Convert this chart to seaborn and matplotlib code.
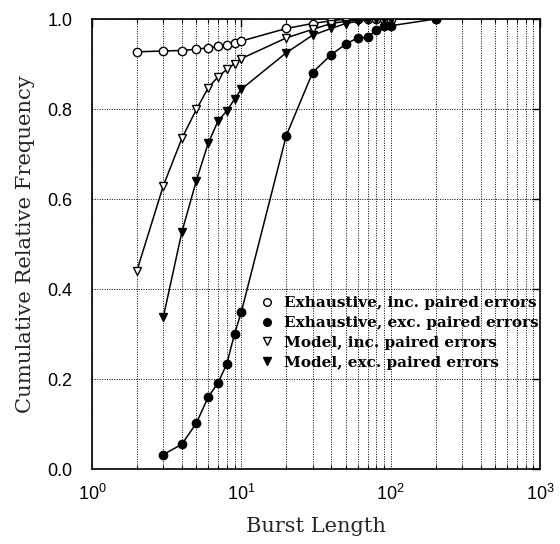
import matplotlib
matplotlib.use("Agg")
import matplotlib.pyplot as plt
import seaborn as sns
import pandas as pd
import numpy as np
from matplotlib.lines import Line2D
from matplotlib.ticker import LogLocator, NullFormatter

sns.set_theme(style="white")
plt.rcParams['font.family'] = ['Liberation Sans', 'DejaVu Sans']
plt.rcParams['mathtext.fontset'] = 'custom'
plt.rcParams['mathtext.rm'] = 'Liberation Sans'

# Data
exh_inc_x = [2, 3, 4, 5, 6, 7, 8, 9, 10, 20, 30, 40, 50, 60, 70, 80, 90, 100, 200]
exh_inc_y = [0.927, 0.929, 0.930, 0.933, 0.936, 0.939, 0.943, 0.947, 0.951, 0.979, 0.990, 0.996, 1.0, 1.0, 1.0, 1.0, 1.0, 1.0, 1.0]

exh_exc_x = [3, 4, 5, 6, 7, 8, 9, 10, 20, 30, 40, 50, 60, 70, 80, 90, 100, 200]
exh_exc_y = [0.032, 0.055, 0.102, 0.160, 0.192, 0.234, 0.300, 0.349, 0.741, 0.881, 0.921, 0.944, 0.958, 0.959, 0.976, 0.984, 0.985, 1.0]

mod_inc_x = [2, 3, 4, 5, 6, 7, 8, 9, 10, 20, 30, 40, 50, 60, 70, 80, 90, 100]
mod_inc_y = [0.441, 0.629, 0.735, 0.799, 0.847, 0.872, 0.888, 0.901, 0.912, 0.958, 0.977, 0.990, 0.995, 0.998, 1.0, 1.0, 1.0, 1.0]

mod_exc_x = [3, 4, 5, 6, 7, 8, 9, 10, 20, 30, 40, 50, 60, 70, 80, 90, 100]
mod_exc_y = [0.337, 0.527, 0.641, 0.724, 0.774, 0.796, 0.822, 0.844, 0.925, 0.964, 0.979, 0.990, 0.995, 0.998, 1.0, 1.0, 1.0]

labels = ["Exhaustive, inc. paired errors", "Exhaustive, exc. paired errors",
          "Model, inc. paired errors", "Model, exc. paired errors"]

y_ticks = [0.0, 0.2, 0.4, 0.6, 0.8, 1.0]
y_tick_labels = ['0.0', '0.2', '0.4', '0.6', '0.8', '1.0']
x_ticks = [1, 10, 100, 1000]
x_tick_labels = [r'$\mathregular{10^0}$', r'$\mathregular{10^1}$',
                 r'$\mathregular{10^2}$', r'$\mathregular{10^3}$']

SERIF = ['DejaVu Serif', 'Liberation Serif']

fig = plt.figure(figsize=(5.6, 5.44), dpi=100)
ax = fig.add_axes([92 / 560, 1 - 469 / 544, 448 / 560, 450 / 544])

series = [
    (exh_inc_x, exh_inc_y, 'o', 'white'),
    (exh_exc_x, exh_exc_y, 'o', 'black'),
    (mod_inc_x, mod_inc_y, 'v', 'white'),
    (mod_exc_x, mod_exc_y, 'v', 'black'),
]
handles = []
for (xs, ys, m, fc), lab in zip(series, labels):
    df = pd.DataFrame({'x': xs, 'y': ys})
    sns.lineplot(data=df, x='x', y='y', ax=ax, color='black', linewidth=1.1,
                 marker=m, markersize=6, markerfacecolor=fc,
                 markeredgecolor='black', markeredgewidth=1.0, zorder=3)
    handles.append(Line2D([], [], linestyle='none', marker=m, markersize=5.5,
                          markerfacecolor=fc, markeredgecolor='black', markeredgewidth=1.0))

ax.set_xscale('log')
ax.set_xlim(1, 1000)
ax.set_ylim(0, 1.0)
ax.xaxis.set_minor_locator(LogLocator(base=10, subs=np.arange(2, 10), numticks=20))
ax.xaxis.set_minor_formatter(NullFormatter())
ax.set_yticks(y_ticks)
ax.set_yticklabels(y_tick_labels)
ax.set_xticks(x_ticks)
ax.set_xticklabels(x_tick_labels)

ax.grid(True, which='both', axis='x', color='black', linestyle=(0, (1, 1.5)), linewidth=0.7)
ax.grid(True, which='major', axis='y', color='black', linestyle=(0, (1, 1.5)), linewidth=0.7)

for s in ax.spines.values():
    s.set_color('black')
    s.set_linewidth(1.2)

ax.tick_params(axis='both', which='major', direction='in', length=6, width=1,
               top=True, right=True, labelsize=13, colors='black')
ax.tick_params(axis='y', which='major', pad=14)
ax.tick_params(axis='x', which='major', pad=11)
ax.tick_params(axis='x', which='minor', direction='in', length=3, width=0.8,
               top=True, bottom=True, colors='black')

ax.set_xlabel('Burst Length', family=SERIF, fontsize=15, labelpad=9)
ax.set_ylabel('Cumulative Relative Frequency', family=SERIF, fontsize=15.2, labelpad=9)

leg = ax.legend(handles, labels, loc='upper left', bbox_to_anchor=(0.375, 0.384),
                frameon=False, borderaxespad=0, borderpad=0,
                handletextpad=0.7, labelspacing=0.38, handlelength=0.9,
                prop={'family': SERIF, 'weight': 'bold', 'size': 11})
for t in leg.get_texts():
    t.set_color('black')

fig.savefig('out.png', dpi=100, facecolor='white')
